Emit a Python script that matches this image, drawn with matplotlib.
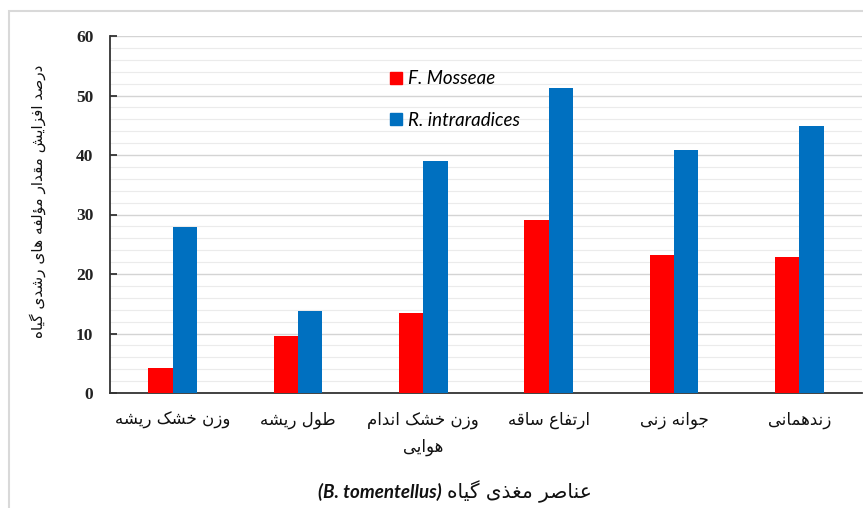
import matplotlib
matplotlib.use("Agg")
import matplotlib.pyplot as plt
from matplotlib.patches import Rectangle, Patch
from matplotlib.ticker import MultipleLocator

# chart data
categories = ["زندهمانی", "جوانه زنی", "ارتفاع ساقه", "وزن خشک اندام\nهوایی", "طول ریشه", "وزن خشک ریشه"][::-1]
f_mosseae = [4.2, 9.6, 13.4, 29.1, 23.2, 22.9]
r_intraradices = [27.9, 13.7, 39.0, 51.3, 40.9, 44.9]
series_labels = ["F. Mosseae", "R. intraradices"]
ylabel_text = "درصد افزایش مقدار مؤلفه های رشدی گیاه"
xlabel_fa = "عناصر مغذی گیاه"
xlabel_en = "(B. tomentellus)"

# minimal persian shaping (no arabic_reshaper available)
FORMS = {
    "ا": (0xFE8D, 0xFE8E, None, None), "ب": (0xFE8F, 0xFE90, 0xFE91, 0xFE92),
    "ت": (0xFE95, 0xFE96, 0xFE97, 0xFE98), "ج": (0xFE9D, 0xFE9E, 0xFE9F, 0xFEA0),
    "خ": (0xFEA5, 0xFEA6, 0xFEA7, 0xFEA8), "د": (0xFEA9, 0xFEAA, None, None),
    "ذ": (0xFEAB, 0xFEAC, None, None), "ر": (0xFEAD, 0xFEAE, None, None),
    "ز": (0xFEAF, 0xFEB0, None, None), "س": (0xFEB1, 0xFEB2, 0xFEB3, 0xFEB4),
    "ش": (0xFEB5, 0xFEB6, 0xFEB7, 0xFEB8), "ص": (0xFEB9, 0xFEBA, 0xFEBB, 0xFEBC),
    "ط": (0xFEC1, 0xFEC2, 0xFEC3, 0xFEC4), "ع": (0xFEC9, 0xFECA, 0xFECB, 0xFECC),
    "غ": (0xFECD, 0xFECE, 0xFECF, 0xFED0), "ف": (0xFED1, 0xFED2, 0xFED3, 0xFED4),
    "ق": (0xFED5, 0xFED6, 0xFED7, 0xFED8), "ل": (0xFEDD, 0xFEDE, 0xFEDF, 0xFEE0),
    "م": (0xFEE1, 0xFEE2, 0xFEE3, 0xFEE4), "ن": (0xFEE5, 0xFEE6, 0xFEE7, 0xFEE8),
    "ه": (0xFEE9, 0xFEEA, 0xFEEB, 0xFEEC), "و": (0xFEED, 0xFEEE, None, None),
    "ؤ": (0xFE85, 0xFE86, None, None), "ک": (0xFB8E, 0xFB8F, 0xFB90, 0xFB91),
    "گ": (0xFB92, 0xFB93, 0xFB94, 0xFB95), "ی": (0xFBFC, 0xFBFD, 0xFBFE, 0xFBFF),
}


def shape_line(s):
    out = []
    for i, ch in enumerate(s):
        if ch not in FORMS:
            out.append(ch)
            continue
        prev = s[i - 1] if i > 0 else ""
        nxt = s[i + 1] if i + 1 < len(s) else ""
        jp = prev in FORMS and FORMS[prev][2] is not None
        jn = nxt in FORMS and FORMS[ch][2] is not None
        iso, fin, ini, med = FORMS[ch]
        if jp and jn:
            code = med
        elif jp:
            code = fin
        elif jn:
            code = ini
        else:
            code = iso
        out.append(chr(code))
    return "".join(out)[::-1]


def fa(s):
    return "\n".join(shape_line(line) for line in s.split("\n"))


red = "#FF0000"
blue = "#0070C0"
fa_font = "DejaVu Sans"
txt = "#111111"

fig = plt.figure(figsize=(8.63, 5.08), dpi=100)
fig.patches.append(Rectangle((9 / 863, -0.2), 1.5, 1.2 - 11 / 508, transform=fig.transFigure,
                             fill=False, edgecolor="#D9D9D9", lw=1.5))
ax = fig.add_axes([110 / 863, 1 - 393 / 508, 752 / 863, 357 / 508])

x = list(range(len(categories)))
w = 0.195
ax.bar([i - w / 2 for i in x], f_mosseae, w, color=red, zorder=3)
ax.bar([i + w / 2 for i in x], r_intraradices, w, color=blue, zorder=3)

ax.set_xlim(-0.5, len(categories) - 0.5)
ax.set_ylim(0, 60)
ax.yaxis.set_major_locator(MultipleLocator(10))
ax.yaxis.set_minor_locator(MultipleLocator(2))
ax.grid(axis="y", which="major", color="#D4D4D4", lw=1.0, zorder=0)
ax.grid(axis="y", which="minor", color="#EBEBEB", lw=0.8, zorder=0)

for s in ["top", "right"]:
    ax.spines[s].set_visible(False)
for s in ["left", "bottom"]:
    ax.spines[s].set_color("#333333")
    ax.spines[s].set_linewidth(1.3)

ax.tick_params(axis="y", which="major", direction="in", length=5, width=1.3, pad=12, color="#333333")
ax.tick_params(axis="y", which="minor", length=0)
ax.tick_params(axis="x", length=0, pad=13)
for lab in ax.get_yticklabels():
    lab.set_fontfamily("Liberation Serif")
    lab.set_fontweight("bold")
    lab.set_fontsize(12.5)
    lab.set_color("#222222")

ax.set_xticks(x)
ax.set_xticklabels([fa(c) for c in categories], fontfamily=fa_font, fontsize=12,
                   color=txt, va="top", linespacing=1.6)

fig.text(38 / 863, 1 - 201 / 508, fa(ylabel_text), rotation=90, ha="center", va="center",
         fontfamily=fa_font, fontsize=11, color=txt)

fig.text(447 / 863, 1 - 492 / 508, fa(xlabel_fa), ha="left", va="center",
         fontfamily=fa_font, fontsize=14.5, color=txt)
fig.text(442 / 863, 1 - 492 / 508, xlabel_en, ha="right", va="center",
         fontfamily="Lato", fontstyle="italic", fontweight="bold", fontsize=13.5, color=txt)

handles = [Patch(color=red), Patch(color=blue)]
leg = ax.legend(handles, series_labels, loc="upper left", bbox_to_anchor=(0.36, 0.93),
                frameon=False, handlelength=0.65, handleheight=0.65, handletextpad=0.3,
                labelspacing=1.3, borderpad=0,
                prop={"family": "Lato", "style": "italic", "size": 13.5})

fig.savefig("out.png", dpi=100)
